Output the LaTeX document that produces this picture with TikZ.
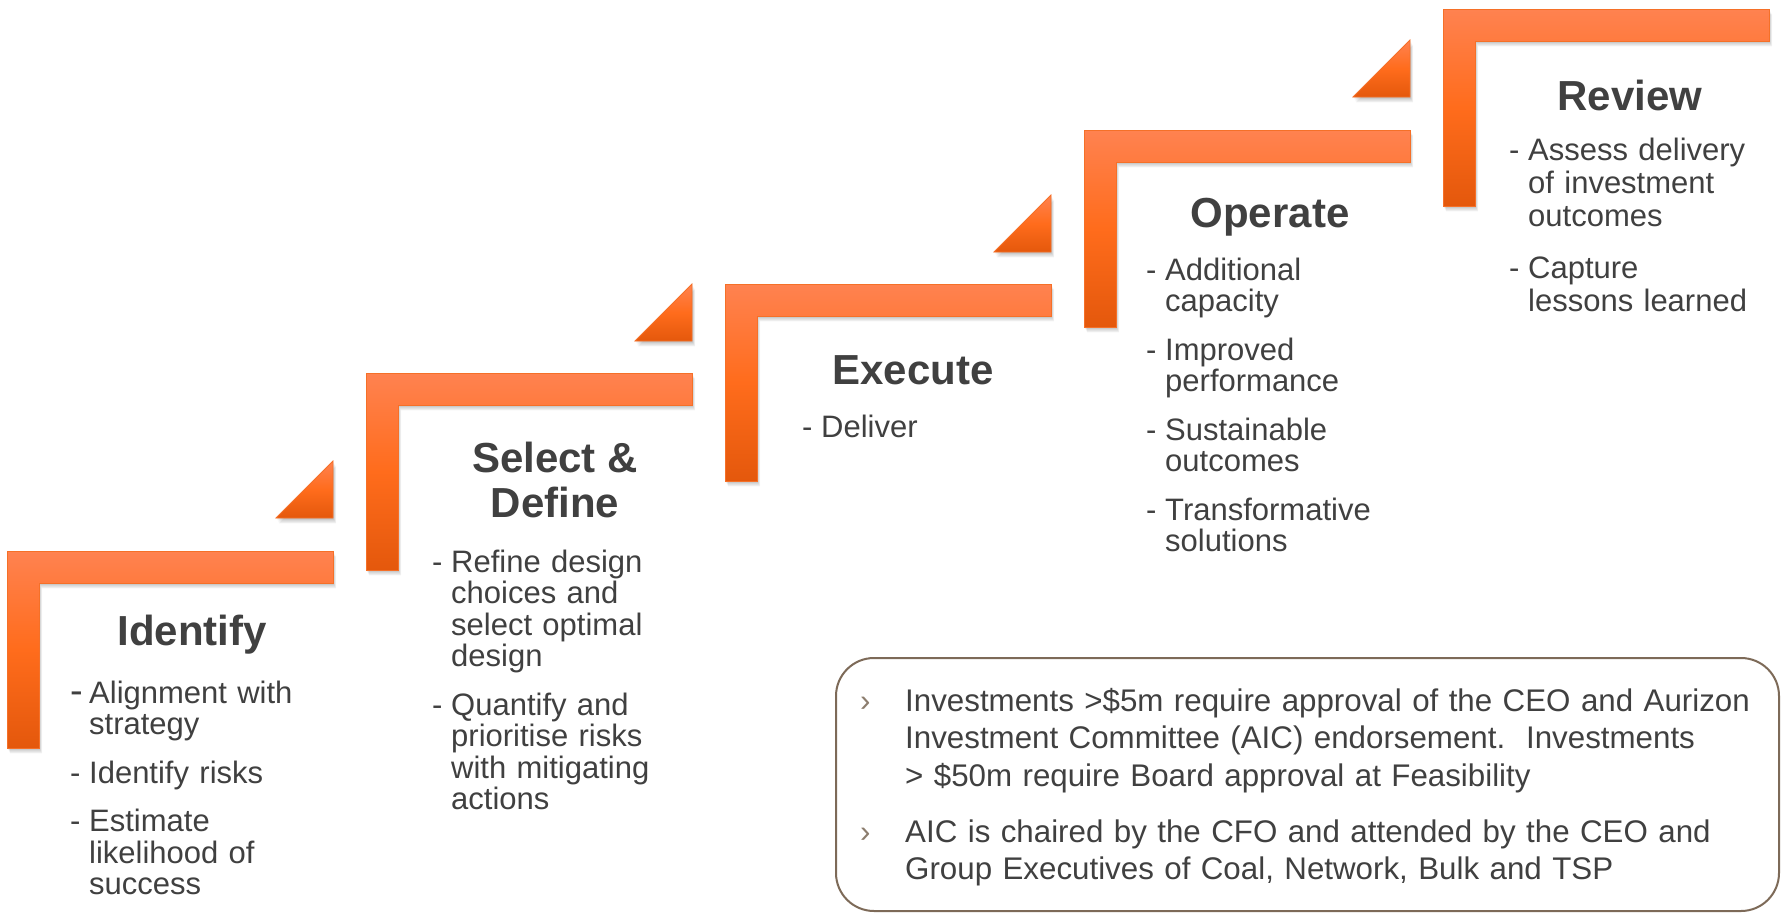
\documentclass[tikz,border=0pt]{standalone}
\usepackage{fontspec}
\setmainfont{Liberation Sans}
\definecolor{txt}{HTML}{404040}
\definecolor{otop}{RGB}{255,130,80}
\definecolor{omid}{RGB}{255,108,28}
\definecolor{obot}{RGB}{228,88,12}
\definecolor{oedge}{RGB}{245,112,40}
\definecolor{boxc}{RGB}{125,106,88}
\definecolor{bul}{RGB}{140,125,110}
\newcommand\itm[1]{\noindent\hangindent=19pt\hangafter=1\makebox[19pt][l]{-}#1\par}
\newcommand\itmsep{\vspace{17pt}}
\newcommand\bitm[1]{\noindent\llap{\makebox[45pt][l]{\textcolor{bul}{›}}}#1\par}
\newcommand\stepPath[2]{(#1,#2) -- ++(326,0) -- ++(0,32) -- ++(-294,0) -- ++(0,165) -- ++(-32,0) -- cycle}
\newcommand\triPath[2]{(#1,#2) -- ++(0,-57) -- ++(-57,57) -- cycle}
\newcommand\stepL[2]{%
  \foreach \d in {1,...,6}{\fill[softshadow, shift={(0.5*\d,0.9*\d)}] \stepPath{#1}{#2};}
  \path[stepshape] \stepPath{#1}{#2};}
\newcommand\triA[2]{%
  \foreach \d in {1,...,6}{\fill[softshadow, shift={(0.5*\d,0.9*\d)}] \triPath{#1}{#2};}
  \path[stepshape] \triPath{#1}{#2};}
\begin{document}
\begin{tikzpicture}[x=1pt,y=-1pt,
  softshadow/.style={black, opacity=0.045},
  stepshape/.style={draw=oedge, line width=0.8pt, top color=otop, bottom color=obot, middle color=omid},
  title/.style={anchor=base, inner sep=0pt, text=txt, font=\bfseries\fontsize{42}{45}\selectfont},
  body/.style={anchor=base west, inner sep=0pt, text=txt, text width=320pt, align=left,
    font=\fontsize{31}{31.5}\selectfont},
  boxtext/.style={anchor=base west, inner sep=0pt, text=txt, text width=870pt, align=left,
    font=\fontsize{31.3}{37.5}\selectfont\frenchspacing},
  panel/.style={draw=boxc, line width=2pt, rounded corners=38pt, anchor=north west, inner sep=0pt}]
\fill[white] (0,0) rectangle (1781,913);
\useasboundingbox (0,0) rectangle (1781,913);

% steps
\stepL{7}{551}
\stepL{366}{373}
\stepL{725}{284}
\stepL{1084}{130}
\stepL{1443}{9}
% triangles
\triA{333}{518}
\triA{692}{341}
\triA{1051}{252}
\triA{1410}{97}

% titles
\node[title] (t1) at (192,645) {Identify};
\node[title, align=center] (t2) at (555,517) {Select \&\\Define};
\node[title] (t3) at (913,384) {Execute};
\node[title] (t4) at (1270,227) {Operate};
\node[title] (t5) at (1630,110) {Review};

% bodies
\node[body] (b1) at (70,703) {\noindent\hangindent=19pt\hangafter=1\makebox[19pt][l]{\fontsize{38}{31.5}\selectfont -}Alignment with\newline strategy\par\itmsep\itm{Identify risks}\itmsep\itm{Estimate\newline likelihood of\newline success}};
\node[body] (b2) at (432,572) {\itm{Refine design\newline choices and\newline select optimal\newline design}\itmsep\itm{Quantify and\newline prioritise risks\newline with mitigating\newline actions}};
\node[body] (b3) at (802,437) {\itm{Deliver}};
\node[body] (b4) at (1146,280) {\itm{Additional\newline capacity}\itmsep\itm{Improved\newline performance}\itmsep\itm{Sustainable\newline outcomes}\itmsep\itm{Transformative\newline solutions}};
\node[body, font=\fontsize{31}{33}\selectfont] (b5) at (1509,160) {\itm{Assess delivery\newline of investment\newline outcomes}\vspace{19pt}\itm{Capture\newline lessons learned}};

% governance box
\node[panel, minimum width=943pt, minimum height=253pt] (box) at (835,657) {};
\node[boxtext] (bt) at (905,711) {\bitm{Investments >\$5m require approval of the CEO and Aurizon\newline Investment Committee (AIC) endorsement.~ Investments\newline > \$50m require Board approval at Feasibility}\vspace{18.5pt}\bitm{AIC is chaired by the CFO and attended by the CEO and\newline Group Executives of Coal, Network, Bulk and TSP}};
\end{tikzpicture}
\end{document}
